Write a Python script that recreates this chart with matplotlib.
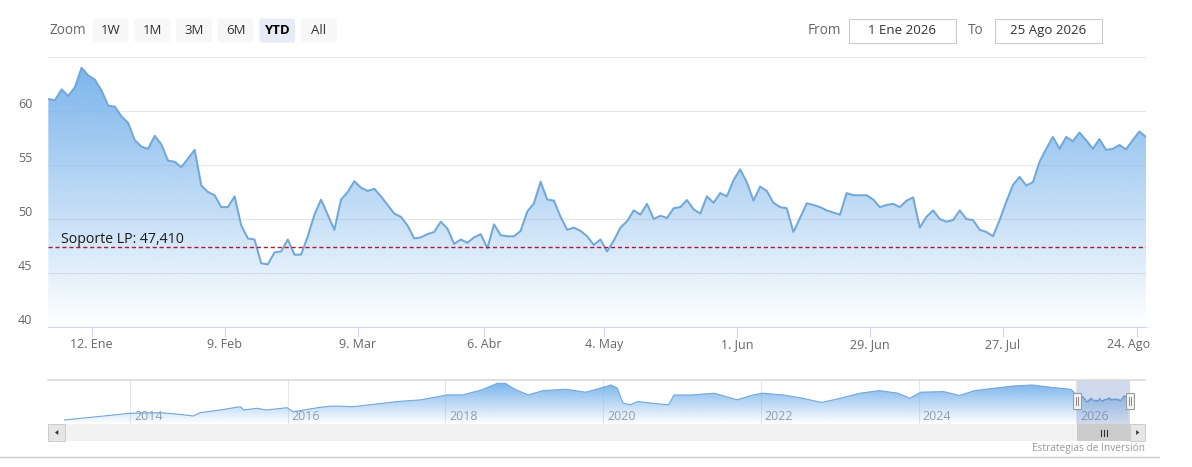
import numpy as np
import matplotlib
matplotlib.use('Agg')
import matplotlib.pyplot as plt
from matplotlib.patches import FancyBboxPatch, Rectangle, Polygon
from matplotlib.transforms import ScaledTranslation

plt.rcParams['font.family'] = ['Open Sans', 'DejaVu Sans']

# --- datos ---
# cierre por sesion, 2 Ene 2026 -> 25 Ago 2026
precio = [
    61.1, 61.0, 62.0, 61.4, 62.2, 64.0, 63.3, 62.9, 61.9, 60.5,
    60.4, 59.5, 58.9, 57.3, 56.7, 56.5, 57.7, 56.9, 55.4, 55.3,
    54.8, 55.6, 56.4, 53.1, 52.5, 52.2, 51.1, 51.1, 52.1, 49.4,
    48.2, 48.1, 45.9, 45.8, 46.9, 47.0, 48.1, 46.7, 46.7, 48.4,
    50.4, 51.8, 50.4, 49.0, 51.8, 52.5, 53.5, 52.9, 52.6, 52.8,
    52.1, 51.3, 50.5, 50.2, 49.4, 48.2, 48.3, 48.6, 48.8, 49.75,
    49.1, 47.7, 48.1, 47.8, 48.3, 48.6, 47.3, 49.5, 48.5, 48.4,
    48.4, 48.9, 50.7, 51.45, 53.45, 51.8, 51.7, 50.2, 49.0, 49.2,
    48.9, 48.4, 47.6, 48.1, 47.0, 48.0, 49.2, 49.8, 50.8, 50.4,
    51.4, 50.0, 50.3, 50.1, 51.0, 51.1, 51.75, 50.9, 50.5, 52.1,
    51.5, 52.4, 52.1, 53.6, 54.6, 53.4, 51.7, 53.0, 52.6, 51.5,
    51.1, 51.0, 48.8, 50.1, 51.45, 51.3, 51.1, 50.8, 50.6, 50.4,
    52.4, 52.2, 52.2, 52.2, 51.8, 51.1, 51.3, 51.4, 51.1, 51.7,
    52.0, 49.2, 50.2, 50.8, 50.0, 49.75, 49.9, 50.8, 50.0, 49.9,
    49.0, 48.8, 48.4, 49.9, 51.6, 53.15, 53.9, 53.1, 53.4, 55.3,
    56.5, 57.6, 56.5, 57.6, 57.2, 58.0, 57.3, 56.5, 57.4, 56.4,
    56.5, 56.85, 56.45, 57.3, 58.1, 57.6,
]
sesion = np.arange(len(precio))

soporte = 47.41
soporte_txt = 'Soporte LP: 47,410'

tick_pos = [6.5, 26.5, 46.5, 65.5, 83.6, 103.5, 123.5, 143.5, 163.7]
tick_txt = ['12. Ene', '9. Feb', '9. Mar', '6. Abr', '4. May', '1. Jun',
            '29. Jun', '27. Jul', '24. Ago']
y_ticks = [40, 45, 50, 55, 60, 65]

# historico del navegador (anio decimal, valor)
hist_anio = [2013.17, 2014.0, 2014.38, 2014.63, 2014.80, 2014.89, 2015.14, 2015.40,
             2015.44, 2015.61, 2015.73, 2015.99, 2016.07, 2016.41, 2016.57, 2016.83,
             2017.21, 2017.40, 2017.69, 2018.02, 2018.22, 2018.46, 2018.66, 2018.76,
             2018.88, 2019.05, 2019.24, 2019.53, 2019.78, 2019.96, 2020.10, 2020.18,
             2020.25, 2020.34, 2020.44, 2020.59, 2020.83, 2020.90, 2021.12, 2021.41,
             2021.70, 2021.90, 2022.02, 2022.29, 2022.53, 2022.77, 2023.01, 2023.26,
             2023.50, 2023.74, 2023.89, 2024.03, 2024.32, 2024.52, 2024.71, 2024.95,
             2025.20, 2025.44, 2025.68, 2025.93]
hist_valor = [10, 23.4, 24.6, 21.4, 18, 24.6, 30, 36.6,
              30, 33.4, 30, 34.6, 26.6, 35.4, 38, 36.6,
              43.4, 47, 50.4, 60.2, 60.2, 70.2, 83.4, 83.4,
              71.4, 60.2, 68.8, 71.4, 65.6, 73.4, 80, 74,
              44, 40.4, 47, 44, 40.4, 60, 60, 63.6,
              50.4, 60, 63.6, 60, 53.6, 45, 53.6, 63.6,
              68.8, 63.6, 53.6, 65.6, 66.8, 59, 68.8, 73.4,
              78, 80, 75.4, 71.4]
nav_anios = [2014, 2016, 2018, 2020, 2022, 2024, 2026]

zoom_btns = ['1W', '1M', '3M', '6M', 'YTD', 'All']
boton_activo = 'YTD'
desde, hasta = '1 Ene 2026', '25 Ago 2026'
credito = 'Estrategias de Inversi\u00f3n'

W, H = 1192, 467
azul = np.array([124, 181, 236]) / 255.
linea_c = '#72a7da'


def area_gradiente(ax, x, y, base, z=1):
    x = np.asarray(x, float)
    y = np.asarray(y, float)
    verts = np.column_stack([np.r_[x, x[-1], x[0]], np.r_[y, base, base]])
    poly = Polygon(verts, closed=True, facecolor='none', edgecolor='none')
    ax.add_patch(poly)
    g = np.ones((256, 1, 4))
    g[..., :3] = azul
    g[..., 3] = np.linspace(1, 0, 256)[:, None]
    im = ax.imshow(g, aspect='auto', origin='upper', interpolation='bilinear',
                   extent=[x.min(), x.max(), base, y.max()], zorder=z)
    im.set_clip_path(poly)


fig = plt.figure(figsize=(W / 100, H / 100), dpi=100)

# --- grafico principal ---
ax = fig.add_axes([48.3 / W, (H - 327) / H, (1146 - 48.3) / W, 270 / H])
area_gradiente(ax, sesion, precio, 40)
ax.plot(sesion, precio, color=linea_c, lw=1.45, zorder=3, solid_joinstyle='round')
ax.axhline(soporte, color='#a3202e', lw=1, ls=(0, (3, 2)), zorder=4)
ax.annotate(soporte_txt, xy=(0, soporte), xytext=(9, 3), textcoords='offset points',
            fontsize=10.2, color='#1a1a1a', va='baseline', zorder=5)
ax.set_xlim(0, 165)
ax.set_ylim(40, 65)
ax.set_yticks(y_ticks)
ax.set_yticklabels([str(v) if v < 65 else '' for v in y_ticks])
ax.set_xticks(tick_pos)
ax.set_xticklabels(tick_txt)
ax.grid(axis='y', color='#e6e6e6', lw=0.8)
ax.set_axisbelow(True)
for s in ['top', 'right', 'left']:
    ax.spines[s].set_visible(False)
ax.spines['bottom'].set_color('#ccd6eb')
ax.spines['bottom'].set_linewidth(0.8)
ax.tick_params(axis='y', length=0, pad=11.5, labelcolor='#666666', labelsize=9)
ax.tick_params(axis='x', length=7.2, width=0.75, color='#ccd6eb', labelcolor='#666666',
               labelsize=9, pad=1)
for lab in ax.get_yticklabels():
    lab.set_transform(lab.get_transform() + ScaledTranslation(0, 7.5 / 100, fig.dpi_scale_trans))
ult = ax.get_xticklabels()[-1]
ult.set_transform(ult.get_transform() + ScaledTranslation(-9 / 100, 0, fig.dpi_scale_trans))

# --- navegador ---
nav = fig.add_axes([48.3 / W, (H - 424) / H, (1145.3 - 48.3) / W, 44 / H])
nav_x = np.r_[hist_anio, 2026.0 + (sesion + 1) / 252.0]
nav_y = np.r_[hist_valor, precio]
area_gradiente(nav, nav_x, nav_y, 2)
nav.plot(nav_x, nav_y, color=linea_c, lw=0.8, zorder=2)
nav.set_xlim(2012.964, 2026.876)
nav.set_ylim(2, 90)
nav.set_yticks([])
nav.set_xticks(nav_anios)
nav.set_xticklabels([str(a) for a in nav_anios])
nav.grid(axis='x', color='#e6e6e6', lw=0.8)
nav.set_axisbelow(True)
for s in nav.spines.values():
    s.set_visible(False)
nav.tick_params(axis='x', length=0, pad=0, labelcolor='#999999', labelsize=9)
for lab in nav.get_xticklabels():
    lab.set_horizontalalignment('left')
    lab.set_verticalalignment('center')
    lab.set_transform(lab.get_transform() + ScaledTranslation(4 / 100, 8 / 100, fig.dpi_scale_trans))

# --- controles (coordenadas en pixeles) ---
ui = fig.add_axes([0, 0, 1, 1], zorder=10)
ui.set_xlim(0, W)
ui.set_ylim(H, 0)
ui.axis('off')
ui.patch.set_alpha(0)

ui.text(49.3, 30.5, 'Zoom', ha='left', va='center', fontsize=9.8, color='#666666')
for i, b in enumerate(zoom_btns):
    x0 = 92.7 + i * 41.7
    activo = b == boton_activo
    ui.add_patch(FancyBboxPatch((x0, 18.5), 35.6, 24, boxstyle='round,pad=0,rounding_size=2',
                                fc='#e6ebf5' if activo else '#f7f7f7', ec='none'))
    ui.text(x0 + 17.8, 30.5, b, ha='center', va='center', fontsize=9.5,
            color='#000000' if activo else '#333333', weight='bold' if activo else 'normal')

ui.text(807.7, 30.5, 'From', ha='left', va='center', fontsize=9.8, color='#666666')
ui.text(968, 30.5, 'To', ha='left', va='center', fontsize=9.8, color='#666666')
for bx, bw, txt in [(849, 106.7, desde), (995.3, 106.4, hasta)]:
    ui.add_patch(Rectangle((bx, 18.5), bw, 24, fc='white', ec='#cccccc', lw=0.8))
    ui.text(bx + bw / 2, 30.5, txt, ha='center', va='center', fontsize=9.5, color='#333333')

# contorno, mascara y asas del navegador
ui.plot([48.3, 1145.3], [380, 380], color='#d9d9d9', lw=1.2)
ui.add_patch(Rectangle((1077, 380), 53, 44, fc=(102 / 255, 133 / 255, 194 / 255, 0.3), ec='none'))
for hx in (1077, 1130):
    ui.add_patch(Rectangle((hx - 4, 393), 8, 16, fc='#f2f2f2', ec='#999999', lw=0.75))
    for dx in (-1.2, 1.2):
        ui.plot([hx + dx, hx + dx], [397, 405], color='#777777', lw=0.6)

# barra de desplazamiento
ui.add_patch(Rectangle((48.3, 424), 1097, 17, fc='#f2f2f2', ec='none'))
ui.add_patch(Rectangle((48.3, 424), 17, 17, fc='#e6e6e6', ec='#cccccc', lw=0.7))
ui.add_patch(Polygon([(55, 432.5), (58.3, 430), (58.3, 435)], closed=True, fc='#333333', ec='none'))
ui.add_patch(Rectangle((1077, 424), 53, 17, fc='#cccccc', ec='none'))
for gx in (1100.5, 1103.5, 1106.5):
    ui.plot([gx, gx], [429.5, 435.5], color='#333333', lw=0.8)
ui.add_patch(Rectangle((1130, 424), 15.3, 17, fc='#e6e6e6', ec='#cccccc', lw=0.7))
ui.add_patch(Polygon([(1139.3, 432.5), (1136.2, 430), (1136.2, 435)], closed=True, fc='#333333', ec='none'))

ui.text(1145.3, 448.5, credito, ha='right', va='center', fontsize=7.3, color='#999999')
ui.plot([0, 1159], [457, 457], color='#cccccc', lw=1)

fig.savefig('out.png', dpi=100)
